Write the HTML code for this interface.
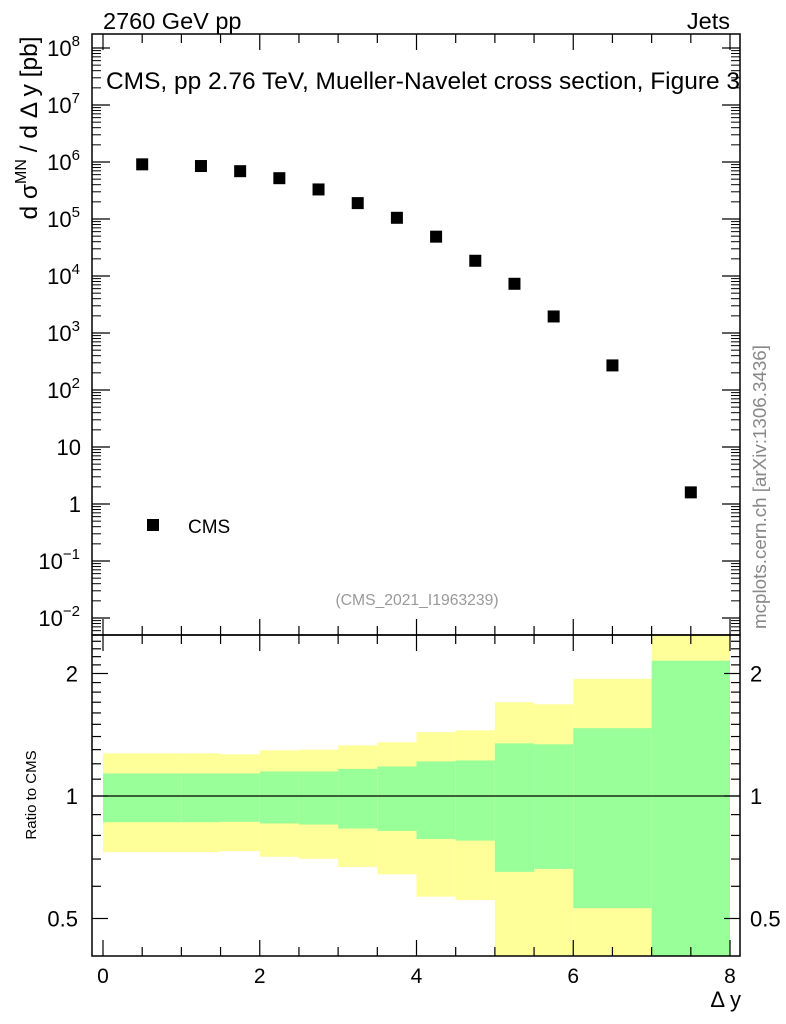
<!DOCTYPE html>
<html><head><meta charset="utf-8"><style>
body{margin:0;background:#fff;}
svg{display:block;font-family:"Liberation Sans",sans-serif;}
</style></head><body>
<svg id="c" width="786" height="1024" xmlns="http://www.w3.org/2000/svg">
<g id="bands"></g>
<g id="axes"></g>
<g id="pts"></g>
<text x="103" y="29" font-size="23.5">2760 GeV pp</text>
<text x="730" y="29" font-size="23.5" text-anchor="end">Jets</text>
<text x="106" y="89" font-size="24.5" textLength="634" lengthAdjust="spacingAndGlyphs">CMS, pp 2.76 TeV, Mueller-Navelet cross section, Figure 3</text>
<text x="417" y="605" font-size="15.7" fill="#999" text-anchor="middle">(CMS_2021_I1963239)</text>
<rect x="147" y="519" width="12" height="12" fill="#000"/>
<text x="188" y="533" font-size="19">CMS</text>
<text transform="translate(37,128) rotate(-90)" font-size="24.5" text-anchor="middle">d σ<tspan font-size="16" dy="-11">MN</tspan><tspan dy="11"> / d Δ y [pb]</tspan></text>
<text transform="translate(36,795) rotate(-90)" font-size="15" text-anchor="middle">Ratio to CMS</text>
<text x="741" y="1007" font-size="22" text-anchor="end">Δ y</text>
<text transform="translate(766,487) rotate(-90)" font-size="18.8" fill="#888" text-anchor="middle">mcplots.cern.ch [arXiv:1306.3436]</text>
</svg>
<script>
const binEdges=[0,1,1.5,2,2.5,3,3.5,4,4.5,5,5.5,6,7,8];
const xCenters=[0.5,1.25,1.75,2.25,2.75,3.25,3.75,4.25,4.75,5.25,5.75,6.5,7.5];
const yValues=[9.1e5,8.5e5,6.9e5,5.2e5,3.3e5,1.9e5,1.05e5,4.9e4,1.85e4,7.3e3,1.95e3,270,1.6];
const yellowHi=[1.273,1.273,1.266,1.295,1.30,1.332,1.355,1.435,1.45,1.70,1.68,1.94,2.6];
const yellowLo=[0.728,0.728,0.732,0.709,0.701,0.669,0.642,0.566,0.555,0.3,0.3,0.3,0.3];
const greenHi=[1.136,1.136,1.136,1.149,1.149,1.166,1.182,1.216,1.223,1.347,1.34,1.468,2.15];
const greenLo=[0.862,0.862,0.864,0.856,0.851,0.832,0.821,0.784,0.777,0.651,0.662,0.530,0.3];
const mainTickExp=["\u22122","\u22121","","","2","3","4","5","6","7","8"];
const ratioTicks=[0.5,1,2];
const xTicks=[0,2,4,6,8];

const NS="http://www.w3.org/2000/svg";
const L=92,R=740,T=34,MB=635,RB=956;
const X=v=>103+v*(730-103)/8;
const Y=v=>504-57*Math.log10(v);
const RY=v=>796-122.5*Math.log2(v);
function mk(p,t,a){const e=document.createElementNS(NS,t);for(const k in a)e.setAttribute(k,a[k]);p.appendChild(e);return e;}
const bands=document.getElementById('bands'),axes=document.getElementById('axes'),pts=document.getElementById('pts');
for(let i=0;i<xCenters.length;i++){
  const x0=X(binEdges[i]),x1=X(binEdges[i+1]);
  const cy=v=>Math.max(MB,Math.min(RB,RY(v)));
  let y=mk(bands,'rect',{x:x0,y:cy(yellowHi[i]),width:x1-x0,height:cy(yellowLo[i])-cy(yellowHi[i]),fill:'#ffff99'});
  
  
  let g=mk(bands,'rect',{x:x0,y:cy(greenHi[i]),width:x1-x0,height:cy(greenLo[i])-cy(greenHi[i]),fill:'#99ff99'});
  
  
  let p=mk(pts,'rect',{x:X(xCenters[i])-6,y:Y(yValues[i])-6,width:12,height:12,fill:'#000'});
  
  
}
const st={stroke:'#000','stroke-width':1.5,fill:'none'};
mk(axes,'rect',Object.assign({x:L,y:T,width:R-L,height:MB-T},st));
mk(axes,'rect',Object.assign({x:L,y:MB,width:R-L,height:RB-MB},st));
mk(axes,'line',{x1:L,x2:R,y1:RY(1),y2:RY(1),stroke:'#000','stroke-width':1.2});
for(let v=0;v<=8;v+=0.5){
  const x=X(v),maj=(v%2===0),len=maj?16:9;
  [[T,1],[MB,-1],[MB,1],[RB,-1]].forEach(([yy,d])=>mk(axes,'line',{x1:x,x2:x,y1:yy,y2:yy+d*len,stroke:'#000','stroke-width':1.2}));
}
xTicks.forEach(v=>{let t=mk(axes,'text',{x:X(v),y:983,'font-size':21,'text-anchor':'middle'});t.textContent=v;

});
for(let d=-2;d<=8;d++){
  const y=Y(Math.pow(10,d));
  [[L,1],[R,-1]].forEach(([xx,s])=>mk(axes,'line',{x1:xx,x2:xx+s*18,y1:y,y2:y,stroke:'#000','stroke-width':1.2}));
  for(let m=2;m<=9;m++){const ym=Y(m*Math.pow(10,d));if(ym<T||ym>MB)continue;
    [[L,1],[R,-1]].forEach(([xx,s])=>mk(axes,'line',{x1:xx,x2:xx+s*9,y1:ym,y2:ym,stroke:'#000','stroke-width':1}));}
  if(d===-2)for(let m=2;m<=9;m++){const ym=Y(m*1e-3);if(ym>T&&ym<MB)[[L,1],[R,-1]].forEach(([xx,s])=>mk(axes,'line',{x1:xx,x2:xx+s*9,y1:ym,y2:ym,stroke:'#000','stroke-width':1}));}
  const e=mainTickExp[d+2];
  let t=mk(axes,'text',{x:e?80:81,y:y+8,'font-size':22,'text-anchor':'end'});
  if(d===0)t.textContent='1';else if(d===1)t.textContent='10';
  else{t.textContent='10';const s=mk(t,'tspan',{'font-size':15,dy:-10});s.textContent=e;}
  
  
}
for(let v=0.4;v<=2.5;v+=0.1){const y=RY(v);if(y<MB||y>RB)continue;
  const maj=ratioTicks.some(r=>Math.abs(r-v)<1e-6);
  [[L,1],[R,-1]].forEach(([xx,s])=>mk(axes,'line',{x1:xx,x2:xx+s*(maj?16:9),y1:y,y2:y,stroke:'#000','stroke-width':1.2}));}
ratioTicks.forEach(v=>{
  let t=mk(axes,'text',{x:78,y:RY(v)+8,'font-size':22,'text-anchor':'end'});t.textContent=v;
  
  
  let t2=mk(axes,'text',{x:750,y:RY(v)+8,'font-size':22});t2.textContent=v;
  
  
});
</script>
</body></html>
